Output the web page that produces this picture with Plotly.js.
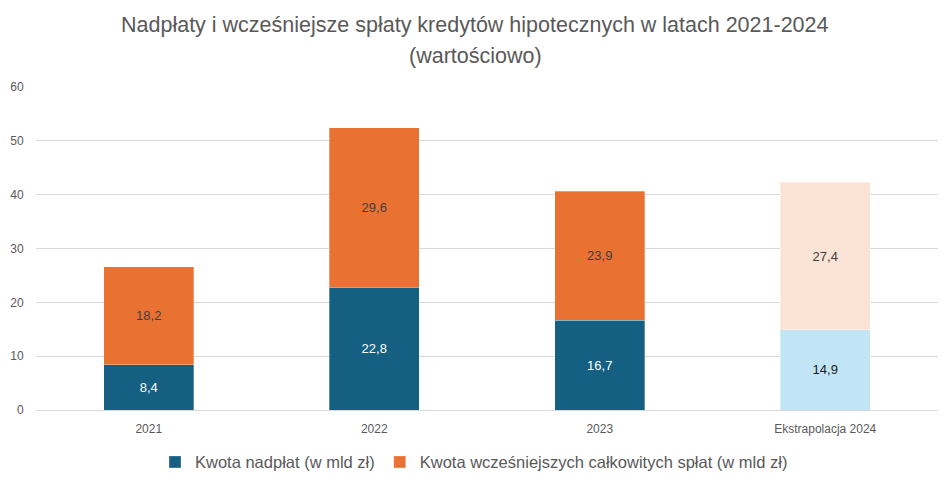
<!DOCTYPE html>
<html>
<head>
<meta charset="utf-8">
<script src="https://cdn.plot.ly/plotly-3.0.1.min.js"></script>
<style>html,body{margin:0;padding:0;background:#fff;}#chart{width:948px;height:485px;}</style>
</head>
<body>
<div id="chart"></div>
<script>
const categories = ["2021", "2022", "2023", "Ekstrapolacja 2024"];
const nadplaty = [8.4, 22.8, 16.7, 14.9];
const splaty = [18.2, 29.6, 23.9, 27.4];
const yTicks = [0, 10, 20, 30, 40, 50, 60];
const seriesNames = ["Kwota nadpłat (w mld zł)", "Kwota wcześniejszych całkowitych spłat (w mld zł)"];
const titleLines = ["Nadpłaty i wcześniejsze spłaty kredytów hipotecznych w latach 2021-2024", "(wartościowo)"];

const sans = "'Liberation Sans', Arial, sans-serif";

const traces = [
  {
    type: 'bar', name: seriesNames[0], x: categories, y: nadplaty,
    marker: { color: ['#156082', '#156082', '#156082', '#C1E5F5'], line: { color: 'rgba(255,255,255,0.6)', width: 0.5 } },
    texttemplate: '%{y:.1f}', textposition: 'inside', insidetextanchor: 'middle',
    textfont: { family: sans, size: 13, color: ['#ffffff', '#ffffff', '#ffffff', '#1a1a1a'] },
    hoverinfo: 'skip'
  },
  {
    type: 'bar', name: seriesNames[1], x: categories, y: splaty,
    marker: { color: ['#E97132', '#E97132', '#E97132', '#FBE3D6'], line: { color: 'rgba(255,255,255,0.6)', width: 0.5 } },
    texttemplate: '%{y:.1f}', textposition: 'inside', insidetextanchor: 'middle',
    textfont: { family: sans, size: 13, color: ['#404040', '#404040', '#404040', '#404040'] },
    hoverinfo: 'skip'
  }
];

const plotTop = 87, plotBottom = 410, plotLeft = 36, plotRight = 938;
const toPaperY = (px) => (plotBottom - px) / (plotBottom - plotTop);
const toPaperX = (px) => (px - plotLeft) / (plotRight - plotLeft);

const layout = {
  width: 948, height: 485,
  barmode: 'stack', bargap: 0.6,
  separators: ', ',
  paper_bgcolor: '#ffffff', plot_bgcolor: '#ffffff',
  margin: { l: plotLeft, r: 948 - plotRight, t: plotTop, b: 485 - plotBottom },
  annotations: [
    { text: titleLines[0], xref: 'paper', yref: 'paper', x: toPaperX(475), y: toPaperY(25), xanchor: 'center', yanchor: 'middle',
      showarrow: false, font: { family: sans, size: 21.5, color: '#595959' } },
    { text: titleLines[1], xref: 'paper', yref: 'paper', x: toPaperX(475), y: toPaperY(56), xanchor: 'center', yanchor: 'middle',
      showarrow: false, font: { family: sans, size: 21.5, color: '#595959' } }
  ],
  xaxis: {
    type: 'category', showgrid: false, zeroline: false, showline: false,
    ticks: 'outside', ticklen: 8, tickcolor: 'rgba(0,0,0,0)',
    tickfont: { family: sans, size: 12, color: '#595959' }
  },
  yaxis: {
    range: [0, 60], tickvals: yTicks, showgrid: true, gridcolor: '#d9d9d9', gridwidth: 1,
    zeroline: true, zerolinecolor: '#d9d9d9', zerolinewidth: 1, showline: false,
    ticks: 'outside', ticklen: 9, tickcolor: 'rgba(0,0,0,0)',
    tickfont: { family: sans, size: 12, color: '#595959' }
  },
  legend: {
    orientation: 'h', x: 0.5, xanchor: 'center', xref: 'container',
    y: 0.047, yanchor: 'middle', yref: 'container',
    font: { family: sans, size: 16.5, color: '#595959' },
    itemwidth: 30, tracegroupgap: 0, traceorder: 'normal'
  },
  showlegend: true
};

Plotly.newPlot('chart', traces, layout, { displayModeBar: false, staticPlot: true });
</script>
</body>
</html>
